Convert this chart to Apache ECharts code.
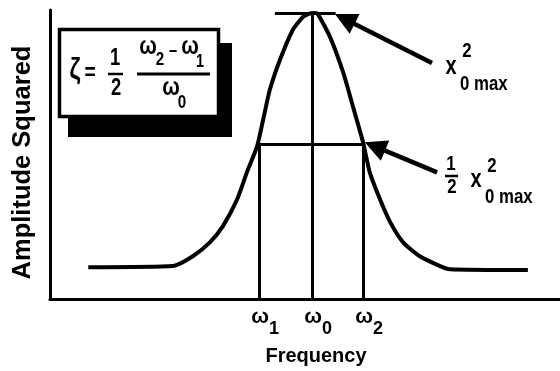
<!DOCTYPE html>
<html>
<head>
<meta charset="utf-8">
<script src="https://cdn.jsdelivr.net/npm/echarts@6/dist/echarts.min.js"></script>
<style>
  html, body { margin: 0; padding: 0; background: #fff; }
  #main { width: 560px; height: 371px; }
</style>
</head>
<body>
<div id="main"></div>
<script>
// resonance curve, values (arbitrary units 0-100)
var freq = [7.5, 24.1, 28.0, 31.4, 33.9, 36.7, 38.6, 40.6, 41.8, 43.1, 45.1, 47.6, 49.6, 51.0, 51.6, 52.4,
  54.9, 57.5, 59.4, 61.4, 62.7, 64.7, 66.7, 69.2, 72.5, 76.5, 78.4, 93.7];
var amp = [11.0, 11.4, 14.8, 19.7, 25.2, 34.5, 43.8, 52.8, 62.1, 72.4, 82.8, 93.1, 97.6, 98.8, 99.0, 98.8,
  90.7, 78.3, 66.6, 54.1, 43.8, 34.5, 26.6, 19.7, 14.8, 11.4, 10.3, 10.0];

var omegaVals = [41.0, 51.4, 61.4];
var omegaSubs = ['1', '0', '2'];
var peakAmp = 99;
var halfAmp = 53.4;
var peakLine = [44.1, 56];
// arrows: [tail, head]
var arrowTop = [[74.9, 81.7], [57.8, 96.9]];
var arrowHalf = [[75.9, 43.8], [63.7, 52.8]];

var FONT = '"Liberation Sans", Arial, sans-serif';
var SQ = 0.8; // squeeze for the condensed lettering

var chart = echarts.init(document.getElementById('main'));

var curve = [];
for (var i = 0; i < freq.length; i++) curve.push([freq[i], amp[i]]);

function seg(a, b) {
  return [{ coord: a, symbol: 'none' }, { coord: b, symbol: 'none' }];
}
function arrow(a, b) {
  return [{ coord: a, symbol: 'none' }, { coord: b, symbol: 'triangle', symbolSize: 22, lineStyle: { width: 4.5 } }];
}

// condensed bold text, centred on (x, y)
function txt(x, y, s, size, align) {
  return {
    type: 'text', x: x, y: y, scaleX: SQ, silent: true,
    style: {
      text: s, fill: '#000', fontFamily: FONT, fontWeight: 'bold', fontSize: size || 20,
      align: align || 'center', verticalAlign: 'middle'
    }
  };
}
function bar(x1, x2, y, h) {
  return { type: 'rect', silent: true, shape: { x: x1, y: y - h / 2, width: x2 - x1, height: h }, style: { fill: '#000' } };
}

var option = {
  animation: false,
  grid: { left: 50, right: 0, top: 10, bottom: 71 },
  xAxis: {
    type: 'value', min: 0, max: 100,
    name: 'Frequency', nameLocation: 'middle', nameGap: 47,
    nameTextStyle: { fontFamily: FONT, fontWeight: 'bold', fontSize: 20, color: '#000', padding: [0, 0, 0, 22] },
    axisLine: { show: true, lineStyle: { color: '#000', width: 3 } },
    axisTick: { show: false },
    splitLine: { show: false },
    axisLabel: {
      customValues: omegaVals,
      margin: 8,
      formatter: function (v) {
        var k = 0;
        for (var j = 0; j < omegaVals.length; j++) {
          if (Math.abs(omegaVals[j] - v) < Math.abs(omegaVals[k] - v)) k = j;
        }
        return '{p|}{w|ω}{s|' + omegaSubs[k] + '}';
      },
      rich: {
        p: { width: 12 },
        w: { fontFamily: FONT, fontWeight: 'bold', fontSize: 21, color: '#000', lineHeight: 20, verticalAlign: 'top' },
        s: { fontFamily: FONT, fontWeight: 'bold', fontSize: 18, color: '#000', lineHeight: 18, padding: [13, 0, 0, 0], verticalAlign: 'top' }
      }
    }
  },
  yAxis: {
    type: 'value', min: 0, max: 100,
    name: 'Amplitude Squared', nameLocation: 'middle', nameGap: 14, nameRotate: 90,
    nameTextStyle: { fontFamily: FONT, fontWeight: 'bold', fontSize: 25.5, color: '#000', padding: [0, 16, 0, 0] },
    axisLine: { show: true, lineStyle: { color: '#000', width: 3 } },
    axisTick: { show: false },
    axisLabel: { show: false },
    splitLine: { show: false }
  },
  series: [{
    type: 'line',
    data: curve,
    showSymbol: false,
    smooth: 0.2,
    silent: true,
    lineStyle: { color: '#000', width: 4 },
    markLine: {
      silent: true,
      label: { show: false },
      lineStyle: { color: '#000', type: 'solid', width: 3 },
      emphasis: { disabled: true },
      data: [
        seg([omegaVals[0], 0], [omegaVals[0], halfAmp]),
        seg([omegaVals[1], 0], [omegaVals[1], peakAmp]),
        seg([omegaVals[2], 0], [omegaVals[2], halfAmp]),
        seg([omegaVals[0], halfAmp], [omegaVals[2], halfAmp]),
        seg([peakLine[0], peakAmp], [peakLine[1], peakAmp]),
        arrow(arrowTop[0], arrowTop[1]),
        arrow(arrowHalf[0], arrowHalf[1])
      ]
    }
  }],
  graphic: [
    // formula box with drop shadow
    { type: 'rect', silent: true, shape: { x: 68, y: 43, width: 164, height: 94 }, style: { fill: '#000' } },
    { type: 'rect', silent: true, shape: { x: 59.5, y: 29.5, width: 159, height: 87 }, style: { fill: '#fff', stroke: '#000', lineWidth: 3.5 } },
    txt(75, 71, 'ζ', 30),
    txt(90, 73, '=', 24),
    txt(115, 59, '1', 23),
    bar(108, 123, 74, 2.5),
    txt(116, 89, '2', 23),
    txt(148, 47, 'ω', 26),
    txt(160, 60, '2', 19),
    txt(173, 52, '−', 18),
    txt(190, 47, 'ω', 26),
    txt(200, 62, '1', 18),
    bar(137, 210, 74, 3),
    txt(171, 88, 'ω', 26),
    txt(182, 103, '0', 19),
    // peak label
    txt(451, 67, 'x', 25),
    txt(467, 51, '2', 21),
    txt(460, 84, '0 max', 21, 'left'),
    // half-power label
    txt(451, 164, '1', 21),
    bar(445, 458, 176, 2.5),
    txt(452, 187, '2', 21),
    txt(476, 180, 'x', 25),
    txt(492, 166, '2', 21),
    txt(485, 197, '0 max', 21, 'left')
  ]
};

chart.setOption(option);
</script>
</body>
</html>
